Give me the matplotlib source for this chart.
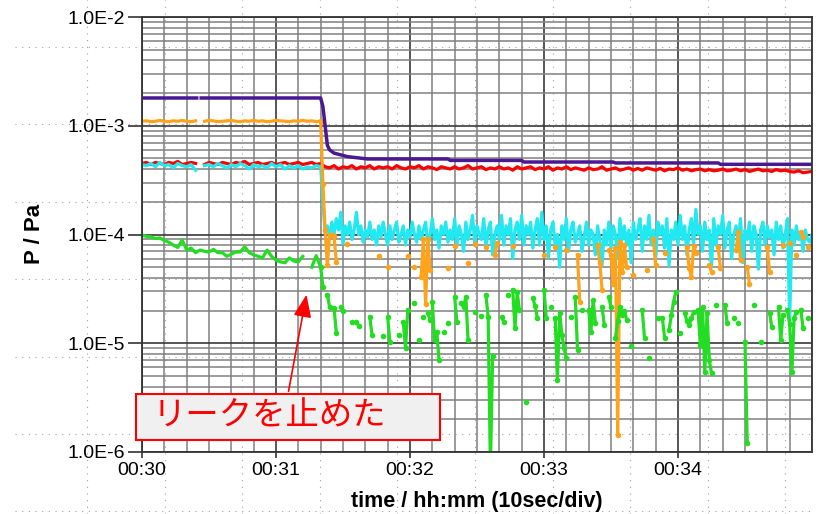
import numpy as np
import matplotlib
matplotlib.use("Agg")
import matplotlib.pyplot as plt
from matplotlib.ticker import FixedLocator, MultipleLocator, LogLocator, FuncFormatter, NullFormatter
from matplotlib.lines import Line2D
from matplotlib.patches import Rectangle, FancyArrowPatch

plt.rcParams['font.family'] = ['Liberation Sans', 'Noto Sans CJK JP', 'DejaVu Sans']

UNIT = 1e-5  # every pressure list below is in units of 1e-5 Pa (time in s after 00:30)

tick_labels = ["00:30", "00:31", "00:32", "00:33", "00:34"]

# purple gauge (stepped reading)
purple_t = [0, 24.5, 25.5, 26.5, 80, 81, 82, 83, 84, 86, 92, 101, 137, 138, 170, 171, 211, 212, 258, 259, 300]
purple_v = [180, 180, np.nan, 180, 180, 150, 100, 66, 60, 56, 52, 49.5, 49.5, 48, 48, 46.4, 46.4,
            45.5, 45.5, 44.2, 44.2]

# before the leak was stopped, sampled every 2 s (t = 0..80)
orange_pre = [110, 111, 109, 110, 112, 110, 109, 111, 110, 112,
              110, 109, 111, np.nan, 110, 112, 111, 109, 110, 111,
              112, 110, 109, 111, 110, 112, 110, 111, 109, 110,
              112, 111, 110, 109, 111, 110, 112, 110, 111, 109,
              110]
cyan_pre = [44, 43, 45, 42, 46, 43, 44, 41, 45, 43,
            42, 44, 39, np.nan, 43, 44, 42, 45, 43, 41,
            44, 42, 45, 43, 40, 44, 42, 43, 41, 45,
            42, 44, 40, 43, 41, 43, 40, 42, 41, 43,
            42]
green_pre = [9.9, 9.6, 9.5, 9.2, 9.3, 8.8, 8.5, 8.0, 7.6, 8.9,
             7.2, 7.5, 6.8, 7.2, 7.0, 6.9, 7.3, 6.8, 6.8, 6.3,
             6.6, 6.9, 6.9, 7.7, 6.8, 6.5, 6.3, 6.1, 7.2, 6.3,
             5.8, 5.6, 5.5, 6.1, 5.7, 5.6, 6.3, np.nan, 5.0, 6.4,
             5.0]

# red, every 2 s over the whole range (t = 0..300)
red_v = [45, 46, 44, 46, 45, 44, 46, 45, 47, 44,
         45, 46, 45, np.nan, 44, 46, 45, 44, 46, 45,
         44, 46, 45, 47, 44, 45, 46, 44, 45, 46,
         44, 45, 46, 44, 45, 46, 44, 45, 46, 44,
         45, 42, 41, 43, 40, 42, 41, 43, 40, 42,
         41, 43, 40, 42, 41, 42, 40, 43, 41, 40,
         42, 41, 43, 40, 42, 41, 39.5, 42, 41, 40,
         42, 40, 41, 43, 40, 41, 42, 39.5, 41, 40,
         42, 40, 41, 39, 42, 40, 41, 42, 39.5, 41,
         40, 42, 39, 41, 40, 42, 39.5, 41, 40, 39,
         41, 39.5, 40, 42, 39, 40, 41, 39, 40, 41,
         39, 40.5, 39, 41, 40, 39, 40.5, 38.5, 40, 39.5,
         41, 39, 40, 38.5, 39.5, 40, 38.5, 39.5, 38.5, 39,
         40, 38.5, 39, 40, 38.5, 39.5, 38, 39, 40, 38.5,
         39, 38, 39.5, 38.5, 39, 38, 37.5, 38.5, 37, 37.5,
         38]

# cyan after the drop, every 1 s (t = 81..300)
cyan_post = [20, 10.3, 12, 9.5, 13, 10, 14, 11, 16, 8.2, 12,
             10, 13, 9, 11, 16, 10, 12, 8.5, 11, 9.5,
             13, 9, 11, 8, 12, 9.5, 13, 10, 8, 12,
             9, 11, 13, 8.5, 10, 12, 8, 11, 9.5, 13,
             10, 8.5, 12, 9, 11, 13, 8, 10, 14, 9,
             11, 7.5, 12, 10, 13, 8.5, 11, 9, 14, 8,
             12, 10, 7, 13, 9, 11, 15, 8, 12, 10,
             9, 14, 7.5, 11, 13, 6.5, 10, 12, 9, 15,
             8, 12, 10, 14, 6.0, 11, 13, 9, 15, 8,
             12, 10, 13, 7.5, 11, 14, 8, 16, 9, 12,
             6.2, 11, 13, 8, 10, 5.0, 12, 9, 14, 7,
             11, 13, 8.5, 10, 12, 7, 9.5, 13, 8, 11,
             10, 6.5, 12, 9, 5.2, 11, 8, 13, 7.5, 12,
             10, 6, 14, 9, 12, 8, 11, 5.5, 13, 9,
             11, 14, 7, 12, 9, 15, 8, 11, 6, 13,
             10, 12, 7.5, 14, 5.2, 11, 9, 13, 8, 15,
             9, 12, 6.5, 11, 14, 8, 17, 10, 12, 7,
             13, 9, 11, 5.0, 14, 8, 12, 10, 15, 7.5,
             11, 13, 6, 10, 12, 8.5, 14, 5.5, 11, 9,
             13, 7, 12, 10, 4.8, 11, 13, 8, 12, 9.5,
             11, 6.5, 13, 9, 12, 7.5, 10, 14, 1.6, 11,
             8, 12, 9, 10.5, 7, 11, 9, 8.5, 10]

# orange / green after the drop: (start second, consecutive 1 s readings), gaps between
orange_segs = [(80, [110, 29, 11, 5.2, 10, 10, 9.7, 5.6]), (92, [8.2]), (106, [6.3]), (110, [5.0]),
               (119, [6.4]), (122, [5.0]), (125, [4.1, 9.0, 2.3, 9.0, 4.7]), (137, [4.9]),
               (140, [7.9]), (146, [5.5]), (149, [8.2]), (154, [7.6]), (158, [6.5, 8.4]),
               (166, [7.8]), (180, [6.5]), (185, [7.6]), (190, [7.2]), (195, [6.5, 2.4]),
               (204, [8.0, 5.5, 3.1]), (209, [7.2, 6.5, 3.5, 7.5, 0.143, 8.5, 4.5, 8.0, 5.0]),
               (220, [4.2]), (226, [4.7]), (229, [9.0, 5.2]), (234, [6.8]),
               (244, [7.6, 4.9, 4.1, 7.9, 6.8]), (254, [5.2, 4.5]), (258, [7.6, 4.9]),
               (266, [7.2, 10.5, 5.8]), (271, [5.0, 3.5]), (280, [7.6, 4.5]), (287, [8.0]),
               (290, [8.4]), (293, [6.5]), (295, [10.5, 9.5]), (298, [7.6])]

green_segs = [(80, [5.0, 3.3]), (83, [2.8, 2.15]), (86, [2.1, 1.25]), (89, [2.15, 2.0]), (94, [1.57]),
              (96, [1.57, 1.45]), (102, [1.74, 1.19]), (108, [1.17]), (110, [1.74, 1.03]), (115, [1.19]),
              (117, [1.57, 0.9, 2.02]), (122, [2.34]), (124, [1.07]), (126, [1.74]), (128, [1.9, 1.64]),
              (130, [2.39, 1.07]), (132, [1.27, 0.70]), (135, [1.27]), (137, [1.54]), (140, [2.66, 1.57]),
              (143, [2.34, 2.15, 2.66, 1.07]), (149, [1.94]), (152, [1.78]), (154, [2.78, 1.74, 0.07, 0.76]),
              (161, [1.74, 1.57]), (164, [2.78]), (166, [3.09, 1.38, 2.96, 2.02]), (172, [0.29]),
              (175, [2.61, 2.2, 1.71]), (180, [3.09, 1.71]), (183, [2.15]),
              (185, [1.71, 0.46, 1.9, 1.2, 0.9, 0.73]), (192, [1.74]), (194, [2.66, 0.87]), (197, [2.02]),
              (200, [2.02, 1.27, 2.5, 1.54]), (206, [2.15, 1.47]), (209, [2.66, 2.15]),
              (212, [1.12, 1.6, 2.15, 1.8, 2.0, 1.64]), (219, [0.94]), (224, [2.02, 1.12]), (227, [0.73]),
              (231, [1.71]), (233, [1.71, 1.12]), (236, [1.32, 1.8, 2.4, 2.96]), (241, [1.24]),
              (243, [1.9, 1.6, 1.47, 1.7, 1.94]), (249, [2.02, 0.96, 2.15, 0.54, 1.9, 0.7, 0.53]),
              (257, [2.25]), (261, [2.25, 1.54]), (265, [1.71]), (267, [1.54]), (270, [1.03, 0.121]),
              (274, [2.25]), (277, [1.03]), (281, [1.9, 1.41]), (285, [2.15, 1.07, 1.82]),
              (289, [2.02, 1.5, 0.54, 1.71, 1.94]), (295, [2.02, 1.38]), (298, [1.71])]

c_purple = '#4a1890'
c_orange = '#ffa31a'
c_red = '#ff0000'
c_cyan = '#22e8f2'
c_green = '#22dd22'


def join_segments(segs):
    t, v = [], []
    for start, vals in segs:
        t.append(start - 0.5)
        v.append(np.nan)
        for i, val in enumerate(vals):
            t.append(start + i)
            v.append(val)
    return np.array(t), np.array(v) * UNIT


t_pre = np.arange(0, 81, 2)
t_red = np.arange(0, 301, 2)
t_cyan = np.concatenate([t_pre, 81 + np.arange(len(cyan_post))])
v_cyan = np.concatenate([cyan_pre, cyan_post]) * UNIT
to, vo = join_segments(orange_segs)
tg, vg = join_segments(green_segs)

fig = plt.figure(figsize=(8.4, 5.14), dpi=100)
fig.patch.set_facecolor('white')

# faint dotted slide guides behind everything
for gx in np.arange(87, 840, 77.6):
    fig.add_artist(Line2D([gx / 840] * 2, [0, 1], transform=fig.transFigure, ls=(0, (1, 5)),
                          color='#a0a0a0', lw=0.8, zorder=-5))
for gy in np.arange(47, 514, 77.4):
    fig.add_artist(Line2D([15 / 840, 815 / 840], [1 - gy / 514] * 2, transform=fig.transFigure,
                          ls=(0, (1, 5)), color='#a0a0a0', lw=0.8, zorder=-5))

ax = fig.add_axes([142 / 840, 62 / 514, 670 / 840, 435 / 514])
ax.patch.set_visible(False)

lw = 2.3
ax.plot(t_red, np.array(red_v) * UNIT, color=c_red, lw=lw)
ax.plot(t_cyan, v_cyan, color=c_cyan, lw=lw)
ax.plot(t_pre, np.array(orange_pre) * UNIT, color=c_orange, lw=lw)
ax.plot(to, vo, color=c_orange, lw=lw, marker='o', ms=3)
ax.plot(t_pre, np.array(green_pre) * UNIT, color=c_green, lw=lw)
ax.plot(tg, vg, color=c_green, lw=lw, marker='o', ms=3)
ax.plot(purple_t, np.array(purple_v) * UNIT, color=c_purple, lw=2.5)

ax.set_yscale('log')
ax.set_xlim(0, 300)
ax.set_ylim(1e-6, 1e-2)

ax.xaxis.set_major_locator(FixedLocator([60 * i for i in range(len(tick_labels))]))
ax.set_xticklabels(tick_labels)
ax.xaxis.set_minor_locator(MultipleLocator(10))
ax.yaxis.set_major_locator(LogLocator(base=10, numticks=10))
ax.yaxis.set_minor_locator(LogLocator(base=10, subs=np.arange(2, 10), numticks=20))
ax.yaxis.set_major_formatter(FuncFormatter(lambda v, p: "1.0E%d" % round(np.log10(v))))
ax.yaxis.set_minor_formatter(NullFormatter())

ax.grid(which='major', color='#3a3a3a', lw=1.2)
ax.grid(which='minor', color='#808080', lw=1.1)
for s in ax.spines.values():
    s.set_color('#333333')
    s.set_linewidth(1.3)

ax.tick_params(axis='y', which='major', length=10, width=1.2, color='#333333', pad=2, labelsize=14)
ax.tick_params(axis='x', which='major', length=4.5, width=1.2, color='#333333', pad=3, labelsize=14)
ax.tick_params(which='minor', length=0)

fig.text(35 / 840, 1 - 234 / 514, "P / Pa", rotation=90, ha='center', va='center',
         fontsize=16, fontweight='bold')
fig.text(477 / 840, 1 - 501 / 514, "time / hh:mm (10sec/div)", ha='center', va='center',
         fontsize=15.5, fontweight='bold')

# annotation box and arrow
fig.add_artist(FancyArrowPatch((288 / 840, 1 - 394 / 514), (307 / 840, 1 - 292 / 514),
                               transform=fig.transFigure, arrowstyle='-|>,head_length=0.55,head_width=0.22',
                               mutation_scale=25, color='red', lw=1.2, zorder=5))
fig.add_artist(Rectangle((136 / 840, 1 - 440 / 514), 304 / 840, 46 / 514, transform=fig.transFigure,
                         facecolor='#f0f0f0', edgecolor='red', lw=1.5, zorder=6))
fig.text(153 / 840, 1 - 416 / 514, "リークを止めた", color='red', fontsize=24, ha='left', va='center',
         family=['Noto Sans CJK JP', 'DejaVu Sans'], zorder=7)

fig.savefig("out.png", dpi=100)
